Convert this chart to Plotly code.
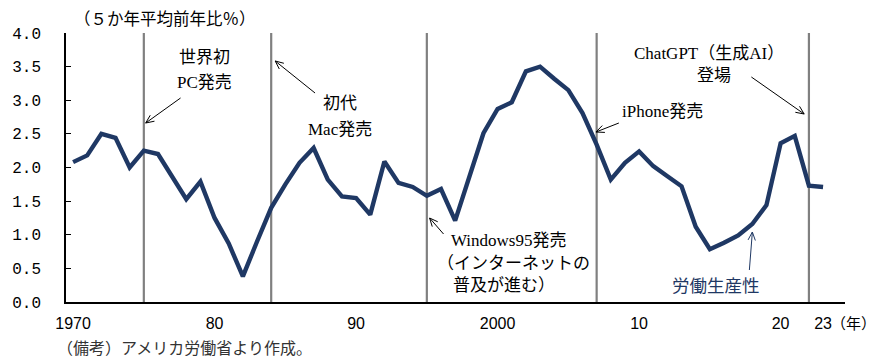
import math
import plotly.graph_objects as go

# US labour productivity, 5-year average, % change on previous year
years = list(range(1970, 2024))
productivity = [
    2.08, 2.18, 2.50, 2.44, 2.00, 2.25, 2.20, 1.87, 1.53, 1.79,   # 1970-79
    1.25, 0.87, 0.38, 0.90, 1.40, 1.75, 2.07, 2.29, 1.82, 1.57,   # 1980-89
    1.545, 1.30, 2.09, 1.77, 1.71, 1.58, 1.68, 1.21, 1.87, 2.51,  # 1990-99
    2.87, 2.97, 3.43, 3.50, 3.32, 3.15, 2.81, 2.34, 1.82, 2.07,   # 2000-09
    2.24, 2.02, 1.87, 1.72, 1.12, 0.785, 0.88, 0.99, 1.16, 1.44,  # 2010-19
    2.36, 2.47, 1.73, 1.71,                                       # 2020-23
]

# Years of the technology milestones marked by vertical rules
event_years = [1975, 1984, 1995, 2007, 2022]

tick_years = [1970, 1980, 1990, 2000, 2010, 2020, 2023]
tick_text = ["1970", "80", "90", "2000", "10", "20", "23"]
y_ticks = [0.0, 0.5, 1.0, 1.5, 2.0, 2.5, 3.0, 3.5, 4.0]

NAVY = "#1F3864"
GRAY = "#808080"
JP = "Noto Sans CJK JP"
MIX = "Liberation Serif, Noto Sans CJK JP"

W, H = 878, 359
ML, MR, MT, MB = 63, 33, 33, 57
PW, PH = W - ML - MR, H - MT - MB


def paper(px, py):
    """Convert a page pixel position to paper coordinates."""
    return (px - ML) / PW, (H - MB - py) / PH


fig = go.Figure()

fig.add_trace(go.Scatter(
    x=years, y=productivity, mode="lines",
    line=dict(color=NAVY, width=4.4),
    showlegend=False, hoverinfo="x+y",
))

shapes = []
for yr in event_years:
    shapes.append(dict(
        type="line", xref="x", yref="paper", x0=yr, x1=yr, y0=0, y1=1,
        line=dict(color=GRAY, width=2.2), layer="below",
    ))


def arrow(tail, head, color="#000000", width=1.0, head_len=9, spread=24):
    tx, ty = paper(*tail)
    hx, hy = paper(*head)
    shapes.append(dict(type="line", xref="paper", yref="paper",
                       x0=tx, y0=ty, x1=hx, y1=hy,
                       line=dict(color=color, width=width)))
    ang = math.atan2(tail[1] - head[1], tail[0] - head[0])
    for s in (1, -1):
        a = ang + s * math.radians(spread)
        wx, wy = paper(head[0] + head_len * math.cos(a),
                       head[1] + head_len * math.sin(a))
        shapes.append(dict(type="line", xref="paper", yref="paper",
                           x0=hx, y0=hy, x1=wx, y1=wy,
                           line=dict(color=color, width=width)))


arrow((178, 98), (143, 123))      # 世界初PC発売
arrow((313, 93), (273, 61))       # 初代Mac発売
arrow((442, 234), (428, 218))     # Windows95発売
arrow((618, 123), (595, 132))     # iPhone発売
arrow((751, 77), (804, 114))      # ChatGPT登場
arrow((749, 270), (752, 232), color=NAVY)  # 労働生産性

annotations = []


def label(text, px, py, size=17, family=MIX, color="#000000", xanchor="center"):
    x, y = paper(px, py)
    annotations.append(dict(
        text=text, x=x, y=y, xref="paper", yref="paper",
        xanchor=xanchor, yanchor="middle", showarrow=False,
        font=dict(family=family, size=size, color=color),
    ))


label("（５か年平均前年比％）", 162, 18, size=16.5, family=JP)
label("世界初", 202, 58)
label("PC発売", 202, 82)
label("初代", 338, 104)
label("Mac発売", 338, 129)
label("Windows95発売", 507, 240)
label("（インターネットの", 512, 263)
label("普及が進む）", 503, 285)
label("iPhone発売", 662, 111)
label("ChatGPT（生成AI）", 708, 53)
label("登場", 713, 76)
label("労働生産性", 716, 284, size=17.5, family=JP, color=NAVY)
label("（年）", 829, 322, size=15, family=JP, xanchor="left")
label("（備考）アメリカ労働省より作成。", 52, 347, size=16, family=JP,
      color="#333333", xanchor="left")

fig.update_layout(
    width=W, height=H,
    margin=dict(l=ML, r=MR, t=MT, b=MB, pad=0),
    paper_bgcolor="white", plot_bgcolor="white",
    shapes=shapes, annotations=annotations,
    xaxis=dict(
        range=[1969.5, 2024.55], tickmode="array",
        tickvals=tick_years, ticktext=tick_text,
        showgrid=False, zeroline=False,
        showline=True, linecolor="#000000", linewidth=1.6,
        ticks="", ticklabelstandoff=6,
        tickfont=dict(family="Liberation Sans", size=16, color="#000000"),
    ),
    yaxis=dict(
        range=[0, 4.0], tickmode="array", tickvals=y_ticks,
        tickformat=".1f",
        showgrid=False, zeroline=False,
        showline=True, linecolor="#000000", linewidth=1.6,
        ticks="inside", ticklen=5, tickwidth=1.2, tickcolor="#000000",
        ticklabelstandoff=20,
        tickfont=dict(family="Liberation Mono", size=16, color="#000000"),
    ),
)

fig.write_html("out.html")
